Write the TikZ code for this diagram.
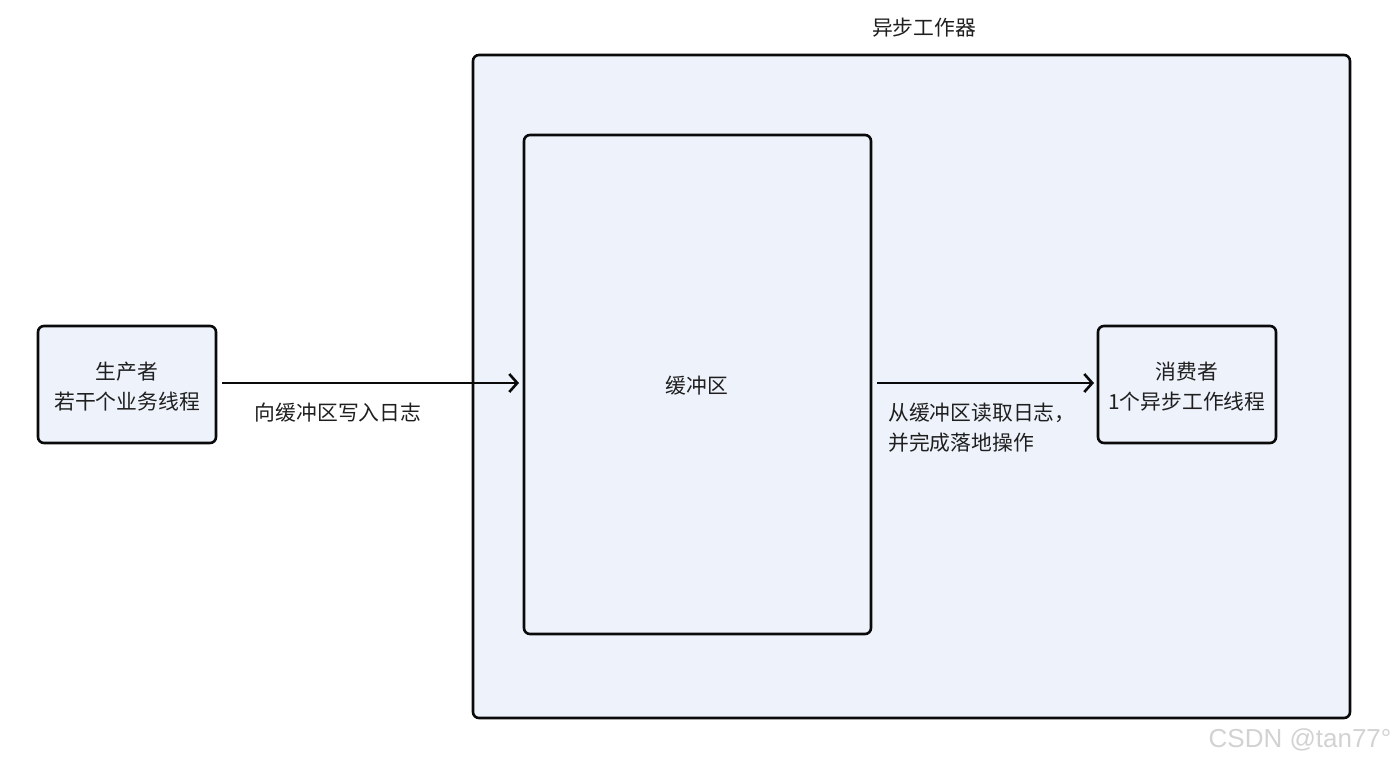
\documentclass[tikz,border=0pt]{standalone}
\usepackage{fontspec}
\setmainfont{Noto Sans CJK SC}
\newfontfamily\wmfont{Liberation Sans}
\usetikzlibrary{arrows.meta}
\definecolor{boxfill}{HTML}{EEF2FB}
\definecolor{boxline}{HTML}{0A0A0A}
\definecolor{wmgray}{HTML}{D2D2D2}
\tikzset{
  box/.style={draw=boxline, fill=boxfill, line width=2.6pt, rounded corners=6pt},
  lbl/.style={font=\fontsize{20.8}{30}\selectfont, text=black!88, inner sep=0pt},
  conn/.style={draw=boxline, line width=2.6pt, -{Straight Barb[length=8pt,width=18pt,line width=2.6pt]}}
}
\begin{document}
\begin{tikzpicture}[x=1pt,y=-1pt]
\useasboundingbox (0,0) rectangle (1395,763);
% outer worker
\draw[box] (473,55) rectangle (1350,718);
\coordinate (outerTop) at (924,28);
\node[lbl] (worker) at (outerTop) {异步工作器};
% buffer
\draw[box] (524,135) rectangle (871,634);
\node[lbl] (buftxt) at (697,386) {缓冲区};
\coordinate (bufL) at (519,383);
\coordinate (bufR) at (874,383);
% producer
\draw[box] (38,326) rectangle (216,443);
\node[lbl, align=center] (prod) at (127,387) {生产者\\若干个业务线程};
\coordinate (prodR) at (219,383);
% consumer
\draw[box] (1098,326) rectangle (1276,443);
\node[lbl, align=center] (cons) at (1187,387) {消费者\\1个异步工作线程};
\coordinate (consL) at (1094,383);
% connectors
\draw[conn] (prodR) ++(3,0) coordinate (a1) -- (bufL);
\draw[conn] (bufR) ++(3,0) coordinate (a2) -- (consL);
\node[lbl] (w) at (338,413) {向缓冲区写入日志};
\node[lbl, align=left, anchor=west] (r) at (888,428) {从缓冲区读取日志，\\并完成落地操作};
% watermark
\node[font=\wmfont\fontsize{26}{28}\selectfont, text=wmgray, inner sep=0pt] (wm) at (1300,740) {CSDN @tan77°};
\end{tikzpicture}
\end{document}
